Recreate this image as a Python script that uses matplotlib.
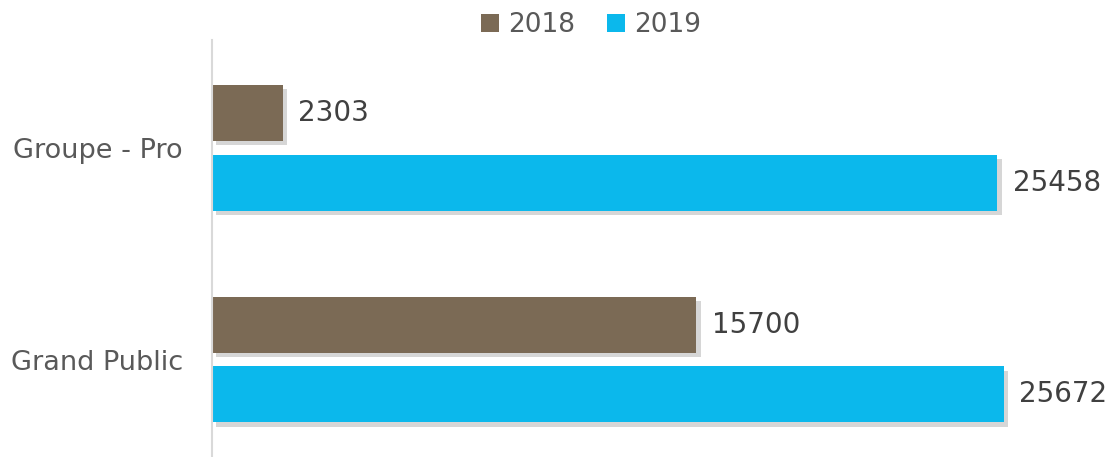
import matplotlib.pyplot as plt
import matplotlib.patheffects as pe
import numpy as np

# data
categories = ['Groupe - Pro', 'Grand Public']
years = ['2018', '2019']
values_2018 = [2303, 15700]
values_2019 = [25458, 25672]
colors = ['#7B6A55', '#0BB8EC']

plt.rcParams['font.family'] = ['DejaVu Sans']

fig = plt.figure(figsize=(11.11, 4.57), dpi=100)
ax = fig.add_axes([212 / 1111, 0, 1 - 212 / 1111, (457 - 40) / 457])

y = np.arange(len(categories))
offset = 0.165
h = 0.265
shadow = [pe.SimplePatchShadow(offset=(3, -3), shadow_rgbFace='#999999', alpha=0.4), pe.Normal()]

bars1 = ax.barh(y - offset, values_2018, h, color=colors[0], label=years[0])
bars2 = ax.barh(y + offset, values_2019, h, color=colors[1], label=years[1])
for b in list(bars1) + list(bars2):
    b.set_path_effects(shadow)

# value labels right of the bars
for bars, vals in [(bars1, values_2018), (bars2, values_2019)]:
    for b, v in zip(bars, vals):
        ax.text(v + 500, b.get_y() + b.get_height() / 2, str(v), va='center', ha='left',
                fontsize=20, color='#404040')

ax.set_xlim(0, 29140)
ax.set_ylim(1.461, -0.511)
ax.set_yticks(y)
ax.set_yticklabels(categories, fontsize=19.5, color='#595959')
ax.tick_params(axis='y', length=0, pad=21)
ax.set_xticks([])
for s in ['top', 'right', 'bottom']:
    ax.spines[s].set_visible(False)
ax.spines['left'].set_color('#d9d9d9')
ax.spines['left'].set_linewidth(1.5)

leg = fig.legend(loc='upper center', bbox_to_anchor=(0.532, 1.025), ncol=2, frameon=False,
                 fontsize=19, handlelength=0.7, handleheight=0.7, handletextpad=0.35,
                 columnspacing=1.2, labelcolor='#595959')
for hnd in leg.legend_handles:
    hnd.set_path_effects([])

fig.savefig('out.png', dpi=100)
